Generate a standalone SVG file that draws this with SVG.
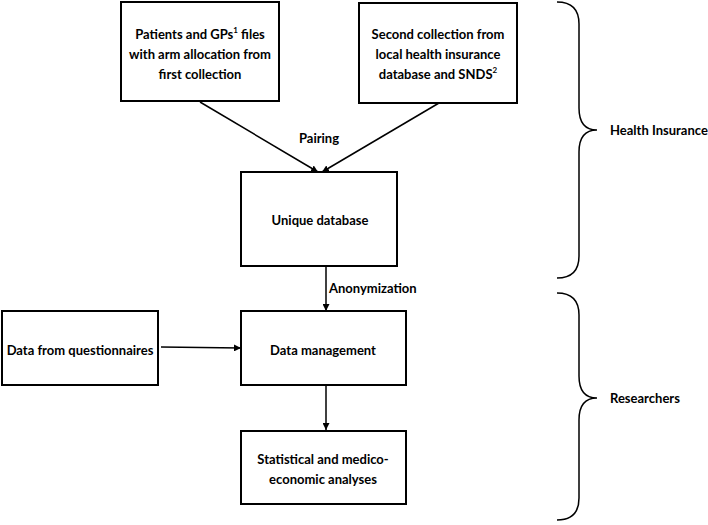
<svg xmlns="http://www.w3.org/2000/svg" width="708" height="525" viewBox="0 0 708 525">
<defs>
<marker id="arr" viewBox="0 0 10 10" refX="10" refY="5" markerWidth="7" markerHeight="7" markerUnits="userSpaceOnUse" orient="auto">
<path d="M0,0 L10,5 L0,10 z" fill="#000"/>
</marker>
<style>
.box{fill:#fff;stroke:#000;stroke-width:2}
.t{font-family:Lato,"Open Sans","Liberation Sans",sans-serif;font-weight:bold;font-size:13px;fill:#000;text-anchor:middle;dominant-baseline:central}
.l{text-anchor:start}
.c{fill:none;stroke:#000;stroke-width:1.5;marker-end:url(#arr)}
.br{fill:none;stroke:#000;stroke-width:1.5}
</style>
</defs>
<rect width="708" height="525" fill="#fff"/>
<g id="connectors">
<line class="c" x1="200" y1="102" x2="318" y2="172"/>
<line class="c" x1="439" y1="103" x2="322" y2="172"/>
<line class="c" x1="326" y1="266" x2="326" y2="311"/>
<line class="c" x1="161" y1="347" x2="241" y2="348"/>
<line class="c" x1="326" y1="385" x2="326" y2="430"/>
<text class="t" x="319" y="138">Pairing</text>
<text class="t l" x="329" y="288">Anonymization</text>
</g>
<g id="n1">
<rect class="box" x="121" y="2" width="158" height="99"/>
<text class="t" x="200" y="34">Patients and GPs<tspan font-size="8" dy="-4">1</tspan><tspan dy="4"> files</tspan></text>
<text class="t" x="200" y="54">with arm allocation from</text>
<text class="t" x="200" y="74">first collection</text>
</g>
<g id="n2">
<rect class="box" x="359" y="3" width="158" height="100"/>
<text class="t" x="438" y="34">Second collection from</text>
<text class="t" x="438" y="54">local health insurance</text>
<text class="t" x="438" y="74">database and SNDS<tspan font-size="8" dy="-4">2</tspan></text>
</g>
<g id="n3">
<rect class="box" x="241" y="172" width="156" height="94"/>
<text class="t" x="320" y="220">Unique database</text>
</g>
<g id="n4">
<rect class="box" x="2" y="311" width="156" height="74"/>
<text class="t" x="80" y="350">Data from questionnaires</text>
</g>
<g id="n5">
<rect class="box" x="241" y="311" width="165" height="74"/>
<text class="t" x="323" y="350">Data management</text>
</g>
<g id="n6">
<rect class="box" x="241" y="431" width="165" height="73"/>
<text class="t" x="323" y="459">Statistical and medico-</text>
<text class="t" x="323" y="479">economic analyses</text>
</g>
<g id="braces">
<path class="br" d="M557,2 Q579,2 579,24 L579,108 Q579,130 597,130 Q579,130 579,152 L579,256 Q579,278 557,278"/>
<path class="br" d="M557,293 Q579,293 579,315 L579,376 Q579,398 597,398 Q579,398 579,420 L579,498 Q579,520 557,520"/>
<text class="t l" x="610" y="130">Health Insurance</text>
<text class="t l" x="610" y="398">Researchers</text>
</g>
</svg>
